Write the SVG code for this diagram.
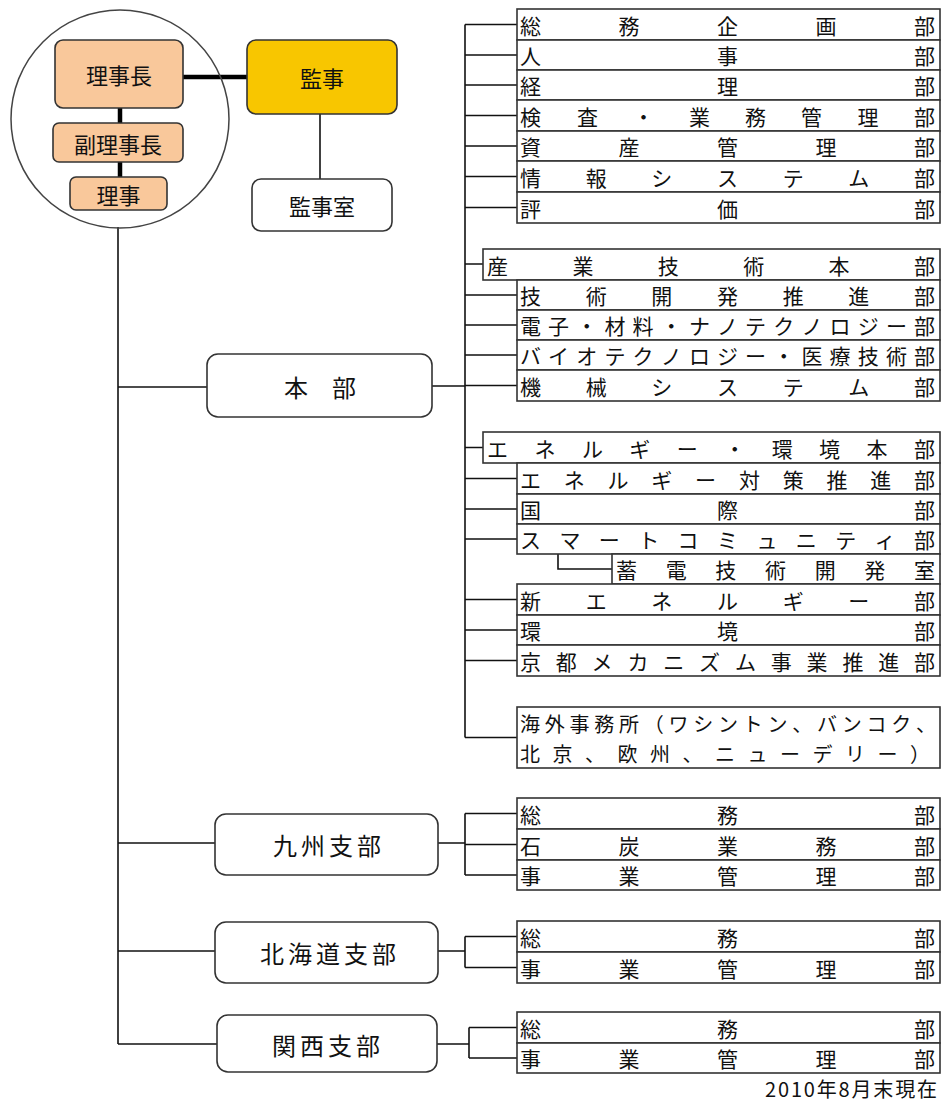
<svg xmlns="http://www.w3.org/2000/svg" width="942" height="1101" viewBox="0 0 942 1101">
<style>
.bg{fill:#fff}
.row{fill:#fff;stroke:#333;stroke-width:1.6}
.rt{font-family:"Noto Sans CJK JP","Noto Sans CJK SC",sans-serif;font-size:21px;fill:#111;dominant-baseline:central}
.node{fill:#fff;stroke:#333;stroke-width:1.6}
.exec{fill:#f9c89b;stroke:#333;stroke-width:1.6}
.aud{fill:#f8c600;stroke:#333;stroke-width:1.6}
.nt{font-family:"Noto Sans CJK JP","Noto Sans CJK SC",sans-serif;font-size:22px;fill:#111;text-anchor:middle;dominant-baseline:central}
.bt{font-family:"Noto Sans CJK JP","Noto Sans CJK SC",sans-serif;font-size:24px;fill:#111;text-anchor:middle;dominant-baseline:central;letter-spacing:4px}
.conn{stroke:#111;stroke-width:1.6;fill:none}
.thick{stroke:#000;stroke-width:4.5;fill:none}
.note{font-family:"Noto Sans CJK JP","Noto Sans CJK SC",sans-serif;font-size:20px;fill:#111;text-anchor:end}
</style>
<rect class="bg" x="0" y="0" width="942" height="1101"/>

<g id="connectors">
  <line class="thick" x1="183" y1="77" x2="247" y2="77"/>
  <line class="thick" x1="120" y1="108" x2="120" y2="123"/>
  <line class="thick" x1="120" y1="162" x2="120" y2="177"/>
  <line class="conn" x1="320" y1="114" x2="320" y2="179"/>
  <line class="conn" x1="118" y1="227" x2="118" y2="1044"/>
  <line class="conn" x1="118" y1="387" x2="207" y2="387"/>
  <line class="conn" x1="118" y1="843" x2="215" y2="843"/>
  <line class="conn" x1="118" y1="951" x2="215" y2="951"/>
  <line class="conn" x1="118" y1="1044" x2="217" y2="1044"/>
  <line class="conn" x1="432" y1="386" x2="465" y2="386"/>
  <line class="conn" x1="465" y1="24.5" x2="465" y2="737.5"/>
  <path class="conn" d="M465 24.5H517M465 55H517M465 85H517M465 115.5H517M465 146H517M465 176.5H517M465 207.5H517"/>
  <path class="conn" d="M465 264H483M465 295H517M465 325H517M465 355H517M465 385.5H517"/>
  <path class="conn" d="M465 447.5H483M465 478.5H517M465 509H517M465 539H517M465 599.5H517M465 630H517M465 660.5H517M465 737.5H517"/>
  <path class="conn" d="M558 554V569H612"/>
  <path class="conn" d="M438 843H465M465 813.5V875M465 813.5H517M465 844.5H517M465 875H517"/>
  <path class="conn" d="M438 951H465M465 936.5V967.5M465 936.5H517M465 967.5H517"/>
  <path class="conn" d="M437 1044H469M469 1027.5V1058M469 1027.5H517M469 1058H517"/>
</g>

<g id="executives">
  <circle cx="120" cy="119" r="109" fill="none" stroke="#444" stroke-width="1.5"/>
  <g id="rijicho"><rect class="exec" x="55" y="40" width="128" height="68" rx="8"/><text class="nt" x="119" y="74">理事長</text></g>
  <g id="fukurijicho"><rect class="exec" x="53" y="123" width="130" height="39" rx="6"/><text class="nt" x="118" y="142.5">副理事長</text></g>
  <g id="riji"><rect class="exec" x="70" y="177" width="97" height="33" rx="6"/><text class="nt" x="118.5" y="193.5">理事</text></g>
</g>
<g id="kanji"><rect class="aud" x="247" y="40" width="150" height="74" rx="9"/><text class="nt" x="322" y="77">監事</text></g>
<g id="kanjishitsu"><rect class="node" x="252" y="179" width="140" height="52" rx="9"/><text class="nt" x="322" y="205">監事室</text></g>

<g id="honbu"><rect class="node" x="207" y="354" width="225" height="63" rx="11"/><text class="nt" x="320" y="386" style="font-size:24px">本　部</text></g>
<g id="kyushu"><rect class="node" x="215" y="814" width="223" height="61" rx="11"/><text class="bt" x="329" y="844">九州支部</text></g>
<g id="hokkaido"><rect class="node" x="215" y="922" width="223" height="61" rx="11"/><text class="bt" x="330" y="952">北海道支部</text></g>
<g id="kansai"><rect class="node" x="217" y="1015" width="220" height="57" rx="11"/><text class="bt" x="328" y="1044">関西支部</text></g>

<g id="r1"><rect class="row" x="517" y="9" width="423" height="31"/><text class="rt" x="520 618.5 717 815.5 914" y="24.5">総務企画部</text></g>
<g id="r2"><rect class="row" x="517" y="40" width="423" height="30"/><text class="rt" x="520 717 914" y="55">人事部</text></g>
<g id="r3"><rect class="row" x="517" y="70" width="423" height="30"/><text class="rt" x="520 717 914" y="85">経理部</text></g>
<g id="r4"><rect class="row" x="517" y="100" width="423" height="31"/><text class="rt" x="520 577 633 689 745 801 857.5 914" y="115.5">検査・業務管理部</text></g>
<g id="r5"><rect class="row" x="517" y="131" width="423" height="30"/><text class="rt" x="520 618.5 717 815.5 914" y="146">資産管理部</text></g>
<g id="r6"><rect class="row" x="517" y="161" width="423" height="31"/><text class="rt" x="520 585.7 651.3 717 782.7 848.3 914" y="176.5">情報システム部</text></g>
<g id="r7"><rect class="row" x="517" y="192" width="423" height="31"/><text class="rt" x="520 717 914" y="207.5">評価部</text></g>

<g id="r8"><rect class="row" x="483" y="249" width="457" height="31"/><text class="rt" x="487 572.4 657.8 743.2 828.6 914" y="264.5">産業技術本部</text></g>
<g id="r9"><rect class="row" x="517" y="280" width="423" height="30"/><text class="rt" x="520 585.7 651.3 717 782.7 848.3 914" y="295">技術開発推進部</text></g>
<g id="r10"><rect class="row" x="517" y="310" width="423" height="30"/><text class="rt" x="520 548.1 576.3 604.4 632.6 660.7 688.9 717 745.1 773.3 801.4 829.6 857.7 885.9 914" y="325">電子・材料・ナノテクノロジー部</text></g>
<g id="r11"><rect class="row" x="517" y="340" width="423" height="30"/><text class="rt" x="520 548.1 576.3 604.4 632.6 660.7 688.9 717 745.1 773.3 801.4 829.6 857.7 885.9 914" y="355">バイオテクノロジー・医療技術部</text></g>
<g id="r12"><rect class="row" x="517" y="370" width="423" height="31"/><text class="rt" x="520 585.7 651.3 717 782.7 848.3 914" y="385.5">機械システム部</text></g>

<g id="r13"><rect class="row" x="483" y="432" width="457" height="31"/><text class="rt" x="487 534.4 581.9 629.3 676.8 724.2 771.7 819.1 866.6 914" y="447.5">エネルギー・環境本部</text></g>
<g id="r14"><rect class="row" x="517" y="463" width="423" height="31"/><text class="rt" x="520 563.8 607.6 651.3 695.1 738.9 782.7 826.4 870.2 914" y="478.5">エネルギー対策推進部</text></g>
<g id="r15"><rect class="row" x="517" y="494" width="423" height="30"/><text class="rt" x="520 717 914" y="509">国際部</text></g>
<g id="r16"><rect class="row" x="517" y="524" width="423" height="30"/><text class="rt" x="520 559.4 598.8 638.2 677.6 717 756.4 795.8 835.2 874.6 914" y="539">スマートコミュニティ部</text></g>
<g id="r17"><rect class="row" x="612" y="554" width="328" height="30"/><text class="rt" x="616 665.7 715.3 765 814.7 864.3 914" y="569">蓄電技術開発室</text></g>
<g id="r18"><rect class="row" x="517" y="584" width="423" height="31"/><text class="rt" x="520 585.7 651.3 717 782.7 848.3 914" y="599.5">新エネルギー部</text></g>
<g id="r19"><rect class="row" x="517" y="615" width="423" height="30"/><text class="rt" x="520 717 914" y="630">環境部</text></g>
<g id="r20"><rect class="row" x="517" y="645" width="423" height="31"/><text class="rt" x="520 555.8 591.6 627.5 663.3 699.1 734.9 770.7 806.5 842.4 878.2 914" y="660.5">京都メカニズム事業推進部</text></g>

<g id="r21"><rect class="row" x="517" y="707" width="423" height="61"/>
  <text class="rt" x="520 544.8 569.5 594.3 619 643.8 668.5 693.3 718 742.8 767.5 792.3 817 841.8 866.5 891.3 916" y="723" style="font-size:20px">海外事務所（ワシントン、バンコク、</text>
  <text class="rt" x="520 552.5 585 617.5 650 682.5 715 747.5 780 812.5 845 877.5 910" y="753" style="font-size:20px">北京、欧州、ニューデリー）</text>
</g>

<g id="k1"><rect class="row" x="517" y="798" width="423" height="31"/><text class="rt" x="520 717 914" y="813.5">総務部</text></g>
<g id="k2"><rect class="row" x="517" y="829" width="423" height="31"/><text class="rt" x="520 618.5 717 815.5 914" y="844.5">石炭業務部</text></g>
<g id="k3"><rect class="row" x="517" y="860" width="423" height="30"/><text class="rt" x="520 618.5 717 815.5 914" y="875">事業管理部</text></g>

<g id="h1"><rect class="row" x="517" y="921" width="423" height="31"/><text class="rt" x="520 717 914" y="936.5">総務部</text></g>
<g id="h2"><rect class="row" x="517" y="952" width="423" height="31"/><text class="rt" x="520 618.5 717 815.5 914" y="967.5">事業管理部</text></g>

<g id="s1"><rect class="row" x="517" y="1012" width="423" height="31"/><text class="rt" x="520 717 914" y="1027.5">総務部</text></g>
<g id="s2"><rect class="row" x="517" y="1043" width="423" height="30"/><text class="rt" x="520 618.5 717 815.5 914" y="1058">事業管理部</text></g>

<text class="note" x="937" y="1097" textLength="172">2010年8月末現在</text>
</svg>
